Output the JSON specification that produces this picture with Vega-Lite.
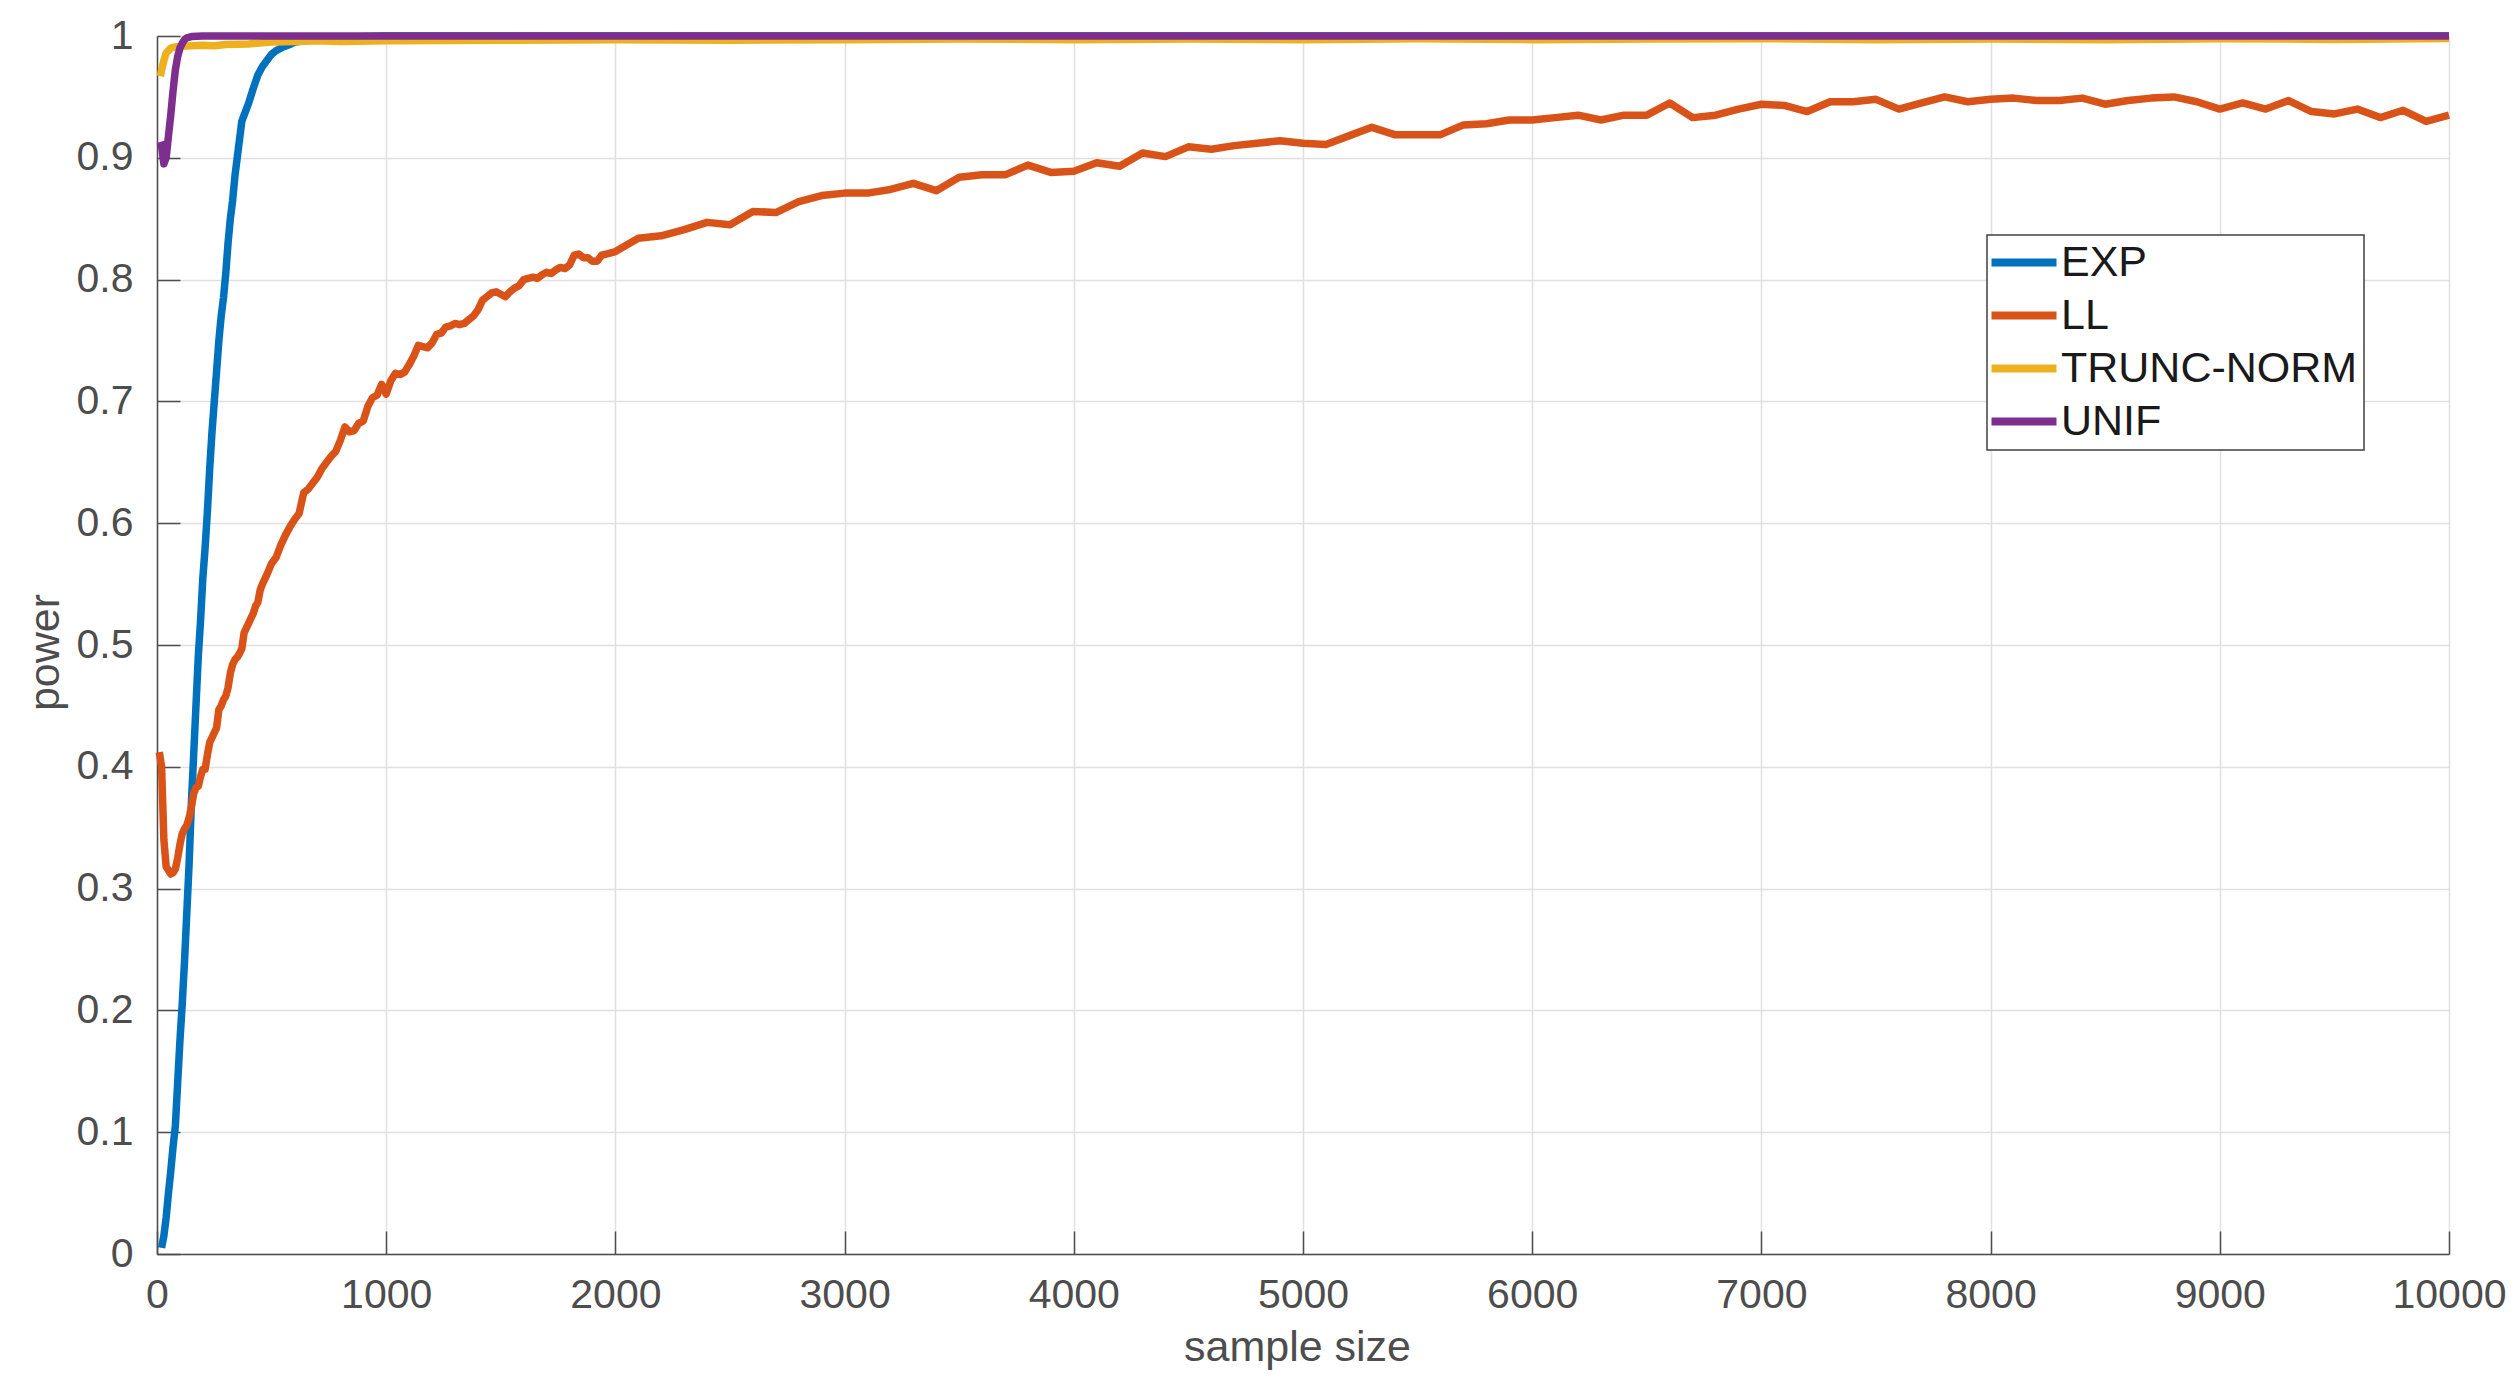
{
  "$schema": "https://vega.github.io/schema/vega-lite/v6.json",
  "width": 2292,
  "height": 1218,
  "autosize": {"type": "none"},
  "padding": {"left": 157, "top": 36, "right": 69, "bottom": 138},
  "background": "white",
  "config": {
    "font": "Liberation Sans",
    "view": {"stroke": null},
    "axis": {
      "labelFont": "Liberation Sans",
      "titleFont": "Liberation Sans",
      "labelFontSize": 41,
      "titleFontSize": 43,
      "titleFontWeight": "normal",
      "labelColor": "#4d4d4d",
      "titleColor": "#4d4d4d",
      "domainColor": "#4d4d4d",
      "domainWidth": 1.5,
      "tickColor": "#4d4d4d",
      "tickWidth": 1.5,
      "tickSize": -23,
      "labelFlush": false,
      "gridColor": "#e0e0e0",
      "gridWidth": 1.5
    },
    "legend": {
      "orient": "none",
      "legendX": 1830,
      "legendY": 199,
      "direction": "vertical",
      "symbolType": "M-2.875,0H5.25",
      "symbolSize": 256,
      "symbolStrokeWidth": 8,
      "labelFont": "Liberation Sans",
      "labelFontSize": 43,
      "labelLimit": 0,
      "labelColor": "#1a1a1a",
      "strokeColor": "#404040",
      "strokeWidth": 1.5,
      "fillColor": "white",
      "padding": 6,
      "rowPadding": 9,
      "labelOffset": 25
    }
  },
  "data": {"values": [
    {"series":"EXP","n":20,"power":0.005},{"series":"EXP","n":30,"power":0.015},{"series":"EXP","n":40,"power":0.03},{"series":"EXP","n":50,"power":0.05},{"series":"EXP","n":60,"power":0.068},{"series":"EXP","n":70,"power":0.088},{"series":"EXP","n":80,"power":0.105},{"series":"EXP","n":90,"power":0.14},{"series":"EXP","n":100,"power":0.175},{"series":"EXP","n":110,"power":0.205},{"series":"EXP","n":120,"power":0.24},{"series":"EXP","n":130,"power":0.28},{"series":"EXP","n":140,"power":0.32},{"series":"EXP","n":150,"power":0.37},{"series":"EXP","n":160,"power":0.41},{"series":"EXP","n":170,"power":0.45},{"series":"EXP","n":180,"power":0.49},{"series":"EXP","n":190,"power":0.52},{"series":"EXP","n":200,"power":0.555},{"series":"EXP","n":210,"power":0.58},{"series":"EXP","n":220,"power":0.61},{"series":"EXP","n":230,"power":0.645},{"series":"EXP","n":240,"power":0.675},{"series":"EXP","n":250,"power":0.7},{"series":"EXP","n":260,"power":0.725},{"series":"EXP","n":270,"power":0.75},{"series":"EXP","n":280,"power":0.77},{"series":"EXP","n":290,"power":0.785},{"series":"EXP","n":300,"power":0.805},{"series":"EXP","n":310,"power":0.83},{"series":"EXP","n":320,"power":0.85},{"series":"EXP","n":330,"power":0.865},{"series":"EXP","n":340,"power":0.885},{"series":"EXP","n":350,"power":0.9},{"series":"EXP","n":360,"power":0.915},{"series":"EXP","n":370,"power":0.93},{"series":"EXP","n":380,"power":0.935},{"series":"EXP","n":390,"power":0.94},{"series":"EXP","n":400,"power":0.945},{"series":"EXP","n":420,"power":0.957},{"series":"EXP","n":440,"power":0.968},{"series":"EXP","n":460,"power":0.975},{"series":"EXP","n":480,"power":0.98},{"series":"EXP","n":500,"power":0.985},{"series":"EXP","n":520,"power":0.988},{"series":"EXP","n":550,"power":0.991},{"series":"EXP","n":580,"power":0.993},{"series":"EXP","n":600,"power":0.995},{"series":"EXP","n":650,"power":0.996},{"series":"EXP","n":700,"power":0.998},{"series":"EXP","n":800,"power":0.999},{"series":"EXP","n":1000,"power":1.0},{"series":"EXP","n":10000,"power":1.0},
    {"series":"LL","n":10,"power":0.412},{"series":"LL","n":20,"power":0.4},{"series":"LL","n":30,"power":0.34},{"series":"LL","n":40,"power":0.318},{"series":"LL","n":50,"power":0.315},{"series":"LL","n":60,"power":0.312},{"series":"LL","n":70,"power":0.313},{"series":"LL","n":80,"power":0.316},{"series":"LL","n":90,"power":0.325},{"series":"LL","n":100,"power":0.336},{"series":"LL","n":110,"power":0.345},{"series":"LL","n":120,"power":0.349},{"series":"LL","n":130,"power":0.352},{"series":"LL","n":140,"power":0.358},{"series":"LL","n":150,"power":0.367},{"series":"LL","n":160,"power":0.378},{"series":"LL","n":170,"power":0.383},{"series":"LL","n":180,"power":0.384},{"series":"LL","n":190,"power":0.392},{"series":"LL","n":200,"power":0.398},{"series":"LL","n":210,"power":0.398},{"series":"LL","n":220,"power":0.41},{"series":"LL","n":230,"power":0.42},{"series":"LL","n":240,"power":0.424},{"series":"LL","n":250,"power":0.428},{"series":"LL","n":260,"power":0.432},{"series":"LL","n":270,"power":0.447},{"series":"LL","n":280,"power":0.45},{"series":"LL","n":290,"power":0.455},{"series":"LL","n":300,"power":0.458},{"series":"LL","n":310,"power":0.465},{"series":"LL","n":320,"power":0.477},{"series":"LL","n":330,"power":0.484},{"series":"LL","n":340,"power":0.488},{"series":"LL","n":350,"power":0.49},{"series":"LL","n":360,"power":0.493},{"series":"LL","n":370,"power":0.497},{"series":"LL","n":380,"power":0.51},{"series":"LL","n":390,"power":0.514},{"series":"LL","n":400,"power":0.518},{"series":"LL","n":410,"power":0.522},{"series":"LL","n":420,"power":0.526},{"series":"LL","n":430,"power":0.532},{"series":"LL","n":440,"power":0.535},{"series":"LL","n":450,"power":0.545},{"series":"LL","n":460,"power":0.55},{"series":"LL","n":480,"power":0.558},{"series":"LL","n":500,"power":0.567},{"series":"LL","n":520,"power":0.572},{"series":"LL","n":540,"power":0.582},{"series":"LL","n":560,"power":0.59},{"series":"LL","n":580,"power":0.597},{"series":"LL","n":600,"power":0.603},{"series":"LL","n":620,"power":0.608},{"series":"LL","n":640,"power":0.625},{"series":"LL","n":660,"power":0.628},{"series":"LL","n":680,"power":0.633},{"series":"LL","n":700,"power":0.638},{"series":"LL","n":720,"power":0.645},{"series":"LL","n":740,"power":0.65},{"series":"LL","n":760,"power":0.655},{"series":"LL","n":780,"power":0.659},{"series":"LL","n":800,"power":0.668},{"series":"LL","n":820,"power":0.679},{"series":"LL","n":840,"power":0.675},{"series":"LL","n":860,"power":0.676},{"series":"LL","n":880,"power":0.682},{"series":"LL","n":900,"power":0.684},{"series":"LL","n":920,"power":0.696},{"series":"LL","n":940,"power":0.703},{"series":"LL","n":960,"power":0.705},{"series":"LL","n":980,"power":0.714},{"series":"LL","n":1000,"power":0.706},{"series":"LL","n":1020,"power":0.717},{"series":"LL","n":1040,"power":0.723},{"series":"LL","n":1060,"power":0.722},{"series":"LL","n":1080,"power":0.724},{"series":"LL","n":1100,"power":0.73},{"series":"LL","n":1120,"power":0.737},{"series":"LL","n":1140,"power":0.746},{"series":"LL","n":1160,"power":0.745},{"series":"LL","n":1180,"power":0.744},{"series":"LL","n":1200,"power":0.748},{"series":"LL","n":1220,"power":0.755},{"series":"LL","n":1240,"power":0.756},{"series":"LL","n":1260,"power":0.761},{"series":"LL","n":1280,"power":0.762},{"series":"LL","n":1300,"power":0.764},{"series":"LL","n":1320,"power":0.763},{"series":"LL","n":1340,"power":0.764},{"series":"LL","n":1360,"power":0.767},{"series":"LL","n":1380,"power":0.77},{"series":"LL","n":1400,"power":0.775},{"series":"LL","n":1420,"power":0.783},{"series":"LL","n":1440,"power":0.786},{"series":"LL","n":1460,"power":0.789},{"series":"LL","n":1480,"power":0.79},{"series":"LL","n":1500,"power":0.788},{"series":"LL","n":1520,"power":0.786},{"series":"LL","n":1540,"power":0.79},{"series":"LL","n":1560,"power":0.793},{"series":"LL","n":1580,"power":0.795},{"series":"LL","n":1600,"power":0.8},{"series":"LL","n":1620,"power":0.801},{"series":"LL","n":1640,"power":0.802},{"series":"LL","n":1660,"power":0.801},{"series":"LL","n":1680,"power":0.804},{"series":"LL","n":1700,"power":0.806},{"series":"LL","n":1720,"power":0.805},{"series":"LL","n":1740,"power":0.808},{"series":"LL","n":1760,"power":0.81},{"series":"LL","n":1780,"power":0.809},{"series":"LL","n":1800,"power":0.812},{"series":"LL","n":1820,"power":0.82},{"series":"LL","n":1840,"power":0.821},{"series":"LL","n":1860,"power":0.818},{"series":"LL","n":1880,"power":0.818},{"series":"LL","n":1900,"power":0.815},{"series":"LL","n":1920,"power":0.815},{"series":"LL","n":1940,"power":0.82},{"series":"LL","n":1960,"power":0.821},{"series":"LL","n":1980,"power":0.822},{"series":"LL","n":2000,"power":0.823},{"series":"LL","n":2100,"power":0.834},{"series":"LL","n":2200,"power":0.836},{"series":"LL","n":2300,"power":0.841},{"series":"LL","n":2400,"power":0.847},{"series":"LL","n":2500,"power":0.845},{"series":"LL","n":2600,"power":0.856},{"series":"LL","n":2700,"power":0.855},{"series":"LL","n":2800,"power":0.864},{"series":"LL","n":2900,"power":0.869},{"series":"LL","n":3000,"power":0.871},{"series":"LL","n":3100,"power":0.871},{"series":"LL","n":3200,"power":0.874},{"series":"LL","n":3300,"power":0.879},{"series":"LL","n":3400,"power":0.873},{"series":"LL","n":3500,"power":0.884},{"series":"LL","n":3600,"power":0.886},{"series":"LL","n":3700,"power":0.886},{"series":"LL","n":3800,"power":0.894},{"series":"LL","n":3900,"power":0.888},{"series":"LL","n":4000,"power":0.889},{"series":"LL","n":4100,"power":0.896},{"series":"LL","n":4200,"power":0.893},{"series":"LL","n":4300,"power":0.904},{"series":"LL","n":4400,"power":0.901},{"series":"LL","n":4500,"power":0.909},{"series":"LL","n":4600,"power":0.907},{"series":"LL","n":4700,"power":0.91},{"series":"LL","n":4800,"power":0.912},{"series":"LL","n":4900,"power":0.914},{"series":"LL","n":5000,"power":0.912},{"series":"LL","n":5100,"power":0.911},{"series":"LL","n":5200,"power":0.918},{"series":"LL","n":5300,"power":0.925},{"series":"LL","n":5400,"power":0.919},{"series":"LL","n":5500,"power":0.919},{"series":"LL","n":5600,"power":0.919},{"series":"LL","n":5700,"power":0.927},{"series":"LL","n":5800,"power":0.928},{"series":"LL","n":5900,"power":0.931},{"series":"LL","n":6000,"power":0.931},{"series":"LL","n":6100,"power":0.933},{"series":"LL","n":6200,"power":0.935},{"series":"LL","n":6300,"power":0.931},{"series":"LL","n":6400,"power":0.935},{"series":"LL","n":6500,"power":0.935},{"series":"LL","n":6600,"power":0.945},{"series":"LL","n":6700,"power":0.933},{"series":"LL","n":6800,"power":0.935},{"series":"LL","n":6900,"power":0.94},{"series":"LL","n":7000,"power":0.944},{"series":"LL","n":7100,"power":0.943},{"series":"LL","n":7200,"power":0.938},{"series":"LL","n":7300,"power":0.946},{"series":"LL","n":7400,"power":0.946},{"series":"LL","n":7500,"power":0.948},{"series":"LL","n":7600,"power":0.94},{"series":"LL","n":7700,"power":0.945},{"series":"LL","n":7800,"power":0.95},{"series":"LL","n":7900,"power":0.946},{"series":"LL","n":8000,"power":0.948},{"series":"LL","n":8100,"power":0.949},{"series":"LL","n":8200,"power":0.947},{"series":"LL","n":8300,"power":0.947},{"series":"LL","n":8400,"power":0.949},{"series":"LL","n":8500,"power":0.944},{"series":"LL","n":8600,"power":0.947},{"series":"LL","n":8700,"power":0.949},{"series":"LL","n":8800,"power":0.95},{"series":"LL","n":8900,"power":0.946},{"series":"LL","n":9000,"power":0.94},{"series":"LL","n":9100,"power":0.945},{"series":"LL","n":9200,"power":0.94},{"series":"LL","n":9300,"power":0.947},{"series":"LL","n":9400,"power":0.938},{"series":"LL","n":9500,"power":0.936},{"series":"LL","n":9600,"power":0.94},{"series":"LL","n":9700,"power":0.933},{"series":"LL","n":9800,"power":0.939},{"series":"LL","n":9900,"power":0.93},{"series":"LL","n":10000,"power":0.935},
    {"series":"TRUNC-NORM","n":15,"power":0.967},{"series":"TRUNC-NORM","n":20,"power":0.972},{"series":"TRUNC-NORM","n":30,"power":0.98},{"series":"TRUNC-NORM","n":40,"power":0.986},{"series":"TRUNC-NORM","n":50,"power":0.988},{"series":"TRUNC-NORM","n":60,"power":0.99},{"series":"TRUNC-NORM","n":80,"power":0.991},{"series":"TRUNC-NORM","n":100,"power":0.9915},{"series":"TRUNC-NORM","n":150,"power":0.992},{"series":"TRUNC-NORM","n":200,"power":0.9925},{"series":"TRUNC-NORM","n":250,"power":0.992},{"series":"TRUNC-NORM","n":300,"power":0.993},{"series":"TRUNC-NORM","n":400,"power":0.9935},{"series":"TRUNC-NORM","n":500,"power":0.995},{"series":"TRUNC-NORM","n":600,"power":0.9955},{"series":"TRUNC-NORM","n":700,"power":0.996},{"series":"TRUNC-NORM","n":800,"power":0.9955},{"series":"TRUNC-NORM","n":1000,"power":0.996},{"series":"TRUNC-NORM","n":1500,"power":0.9965},{"series":"TRUNC-NORM","n":2000,"power":0.997},{"series":"TRUNC-NORM","n":2500,"power":0.9965},{"series":"TRUNC-NORM","n":3000,"power":0.997},{"series":"TRUNC-NORM","n":3500,"power":0.9975},{"series":"TRUNC-NORM","n":4000,"power":0.997},{"series":"TRUNC-NORM","n":4500,"power":0.9975},{"series":"TRUNC-NORM","n":5000,"power":0.997},{"series":"TRUNC-NORM","n":5500,"power":0.9978},{"series":"TRUNC-NORM","n":6000,"power":0.997},{"series":"TRUNC-NORM","n":6500,"power":0.9975},{"series":"TRUNC-NORM","n":7000,"power":0.9978},{"series":"TRUNC-NORM","n":7500,"power":0.997},{"series":"TRUNC-NORM","n":8000,"power":0.9975},{"series":"TRUNC-NORM","n":8500,"power":0.997},{"series":"TRUNC-NORM","n":9000,"power":0.9978},{"series":"TRUNC-NORM","n":9500,"power":0.9972},{"series":"TRUNC-NORM","n":10000,"power":0.998},
    {"series":"UNIF","n":15,"power":0.913},{"series":"UNIF","n":20,"power":0.91},{"series":"UNIF","n":30,"power":0.895},{"series":"UNIF","n":40,"power":0.9},{"series":"UNIF","n":50,"power":0.918},{"series":"UNIF","n":60,"power":0.935},{"series":"UNIF","n":70,"power":0.955},{"series":"UNIF","n":80,"power":0.972},{"series":"UNIF","n":90,"power":0.983},{"series":"UNIF","n":100,"power":0.99},{"series":"UNIF","n":110,"power":0.994},{"series":"UNIF","n":120,"power":0.997},{"series":"UNIF","n":130,"power":0.9985},{"series":"UNIF","n":150,"power":0.9995},{"series":"UNIF","n":200,"power":1.0},{"series":"UNIF","n":10000,"power":1.0}
  ]},
  "mark": {"type": "line", "strokeWidth": 7.5, "strokeJoin": "round", "clip": false},
  "encoding": {
    "x": {
      "field": "n", "type": "quantitative",
      "scale": {"domain": [0, 10000], "nice": false, "zero": false},
      "axis": {"title": "sample size", "values": [0,1000,2000,3000,4000,5000,6000,7000,8000,9000,10000], "format": "d", "labelPadding": 44, "titleBaseline": "alphabetic", "titleY": 106, "titleX": 1140}
    },
    "y": {
      "field": "power", "type": "quantitative",
      "scale": {"domain": [0, 1], "nice": false},
      "axis": {"title": "power", "values": [0,0.1,0.2,0.3,0.4,0.5,0.6,0.7,0.8,0.9,1], "format": "~g", "labelPadding": 47, "titleBaseline": "alphabetic", "titleX": -99, "titleY": 616, "titleAngle": -90}
    },
    "color": {
      "field": "series", "type": "nominal",
      "scale": {"domain": ["EXP", "LL", "TRUNC-NORM", "UNIF"], "range": ["#0072BD", "#D95319", "#EDB120", "#7E2F8E"]},
      "legend": {"title": null}
    }
  }
}
